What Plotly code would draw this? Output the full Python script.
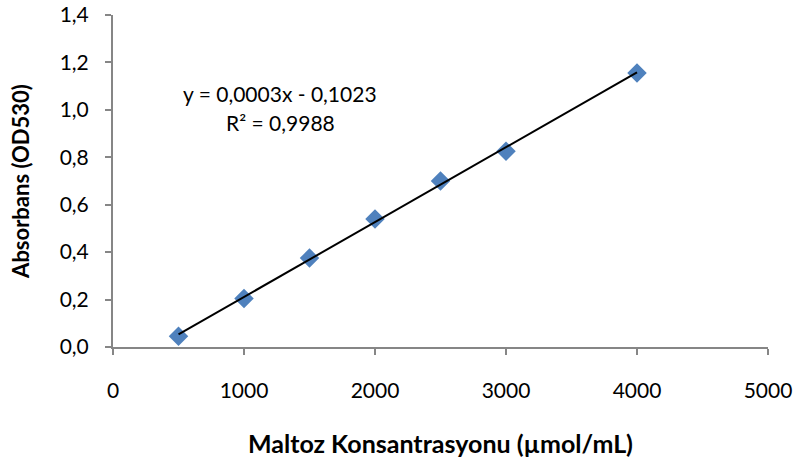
import numpy as np
import plotly.graph_objects as go

# Maltose standard curve: concentration vs absorbance at 530 nm
concentration = [500, 1000, 1500, 2000, 2500, 3000, 4000]
absorbance = [0.045, 0.205, 0.375, 0.54, 0.70, 0.825, 1.155]
equation_lines = ["y = 0,0003x - 0,1023", "R² = 0,9988"]
x_ticks = [0, 1000, 2000, 3000, 4000, 5000]
y_ticks = [0, 0.2, 0.4, 0.6, 0.8, 1.0, 1.2, 1.4]

# Linear trendline over the measured range
slope, intercept = np.polyfit(concentration, absorbance, 1)
fit_x = [min(concentration), max(concentration)]
fit_y = [slope * v + intercept for v in fit_x]

FONT = "Lato, 'Open Sans', sans-serif"
AXIS_GRAY = "#868686"

# plot-area geometry in pixels
L, R, T, B = 113, 32, 15, 114
W, H = 800, 461
plot_h = H - T - B

fig = go.Figure()
fig.add_trace(go.Scatter(
    x=concentration, y=absorbance, mode="markers",
    marker=dict(symbol="diamond", size=15, color="#4F81BD", line=dict(width=0)),
    showlegend=False, hoverinfo="x+y",
))
fig.add_trace(go.Scatter(
    x=fit_x, y=fit_y, mode="lines",
    line=dict(color="black", width=2),
    showlegend=False, hoverinfo="skip",
))

# equation and R² label, one line each
for line_text, py in zip(equation_lines, [94, 122]):
    fig.add_annotation(
        x=(280 - L) / (W - L - R), xref="paper",
        y=(H - B - py) / plot_h, yref="paper",
        text=line_text, showarrow=False,
        font=dict(family=FONT, size=21, color="black"),
        xanchor="center", yanchor="middle",
    )

fig.update_layout(
    width=W, height=H,
    margin=dict(l=L, r=R, t=T, b=B),
    plot_bgcolor="white", paper_bgcolor="white",
    font=dict(family=FONT, size=21, color="black"),
    xaxis=dict(
        range=[0, 5000], tickvals=x_ticks, ticktext=[str(v) for v in x_ticks],
        showgrid=False, zeroline=False, showline=True, linecolor=AXIS_GRAY, linewidth=2,
        ticks="outside", ticklen=6, tickwidth=2, tickcolor=AXIS_GRAY,
        tickfont=dict(family=FONT, size=21), ticklabelstandoff=18,
        automargin=False,
        title=dict(text="<b>Maltoz Konsantrasyonu (µmol/mL)</b>",
                   font=dict(family=FONT, size=25), standoff=34),
    ),
    yaxis=dict(
        range=[0, 1.4], tickvals=y_ticks,
        ticktext=[f"{v:.1f}".replace(".", ",") for v in y_ticks],
        showgrid=False, zeroline=False, showline=True, linecolor=AXIS_GRAY, linewidth=2,
        ticks="outside", ticklen=6, tickwidth=2, tickcolor=AXIS_GRAY,
        tickfont=dict(family=FONT, size=21), ticklabelstandoff=12,
        automargin=False,
        title=dict(text="<b>Absorbans (OD530)</b>",
                   font=dict(family=FONT, size=22), standoff=24),
    ),
)

fig.write_html("out.html")
